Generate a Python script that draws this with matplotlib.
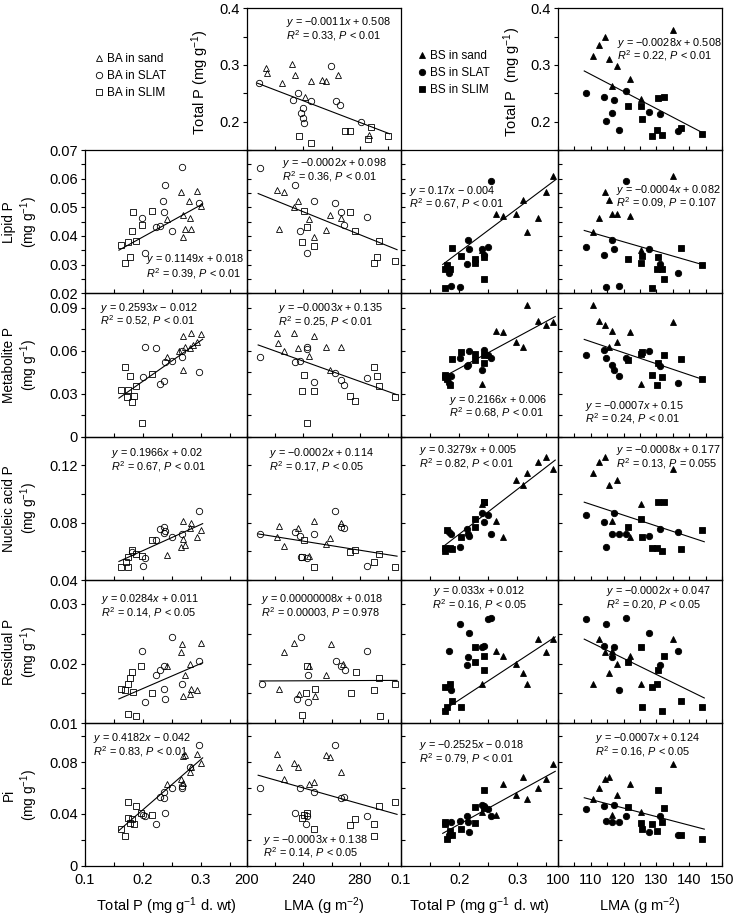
import numpy as np
import matplotlib
matplotlib.use("Agg")
import matplotlib.pyplot as plt
from matplotlib.lines import Line2D
from matplotlib.ticker import FixedLocator, MultipleLocator, FuncFormatter

plt.rcParams['font.family'] = ['Liberation Sans', 'DejaVu Sans']
plt.rcParams['mathtext.fontset'] = 'custom'
plt.rcParams['mathtext.rm'] = 'Liberation Sans'
plt.rcParams['mathtext.it'] = 'Liberation Sans:italic'
plt.rcParams['mathtext.bf'] = 'Liberation Sans:bold'

# ---------------------------------------------------------------- data
# BA (open symbols) -- each list holds (x, y) pairs
BA_TOP_SAND = [(213.6,0.295),(214.1,0.286),(225.1,0.268),(231.9,0.301),(234.3,0.282),(241.5,0.243),(245.1,0.272),(253.0,0.274),(256.3,0.271),(264.3,0.282),(286.3,0.177)]
BA_TOP_SLAT = [(208.9,0.269),(232.8,0.239),(235.9,0.250),(238.7,0.215),(239.9,0.224),(239.9,0.206),(240.4,0.198),(245.1,0.237),(259.6,0.299),(263.4,0.236),(265.7,0.229),(281.0,0.200)]
BA_TOP_SLIM = [(236.8,0.175),(245.5,0.163),(269.7,0.184),(272.7,0.183),(285.6,0.169),(288.0,0.190),(299.7,0.175)]

BA_LIPID_TP_SAND = [(0.242,0.0459),(0.266,0.0552),(0.269,0.0472),(0.269,0.0395),(0.273,0.0423),(0.284,0.0423),(0.281,0.0464),(0.280,0.0522),(0.293,0.0558),(0.300,0.0506)]
BA_LIPID_TP_SLAT = [(0.199,0.0464),(0.204,0.0340),(0.223,0.0430),(0.229,0.0436),(0.235,0.0522),(0.236,0.0485),(0.238,0.0578),(0.250,0.0417),(0.267,0.0640),(0.297,0.0514)]
BA_LIPID_TP_SLIM = [(0.162,0.0367),(0.169,0.0305),(0.177,0.0326),(0.174,0.0378),(0.182,0.0417),(0.183,0.0485),(0.189,0.0384),(0.199,0.0438),(0.215,0.0488)]
BA_LIPID_LMA_SAND = [(221.1,0.0560),(226.1,0.0552),(222.5,0.0423),(235.9,0.0522),(233.3,0.0502),(243.9,0.0458),(247.4,0.0395),(255.8,0.0421),(258.7,0.0473),(266.9,0.0464)]
BA_LIPID_LMA_SLAT = [(209.4,0.0638),(234.2,0.0578),(247.6,0.0522),(237.5,0.0418),(242.3,0.0340),(262.7,0.0514),(266.4,0.0485),(268.7,0.0438),(285.2,0.0465)]
BA_LIPID_LMA_SLIM = [(240.6,0.0488),(242.3,0.0430),(238.9,0.0380),(247.6,0.0366),(273.2,0.0485),(276.8,0.0418),(293.2,0.0384),(289.9,0.0307),(292.0,0.0325),(304.9,0.0314)]

BA_METAB_TP_SAND = [(0.242,0.0558),(0.262,0.0600),(0.269,0.0703),(0.269,0.0465),(0.273,0.0627),(0.281,0.0620),(0.284,0.0724),(0.286,0.0640),(0.293,0.0658),(0.300,0.0715)]
BA_METAB_TP_SLAT = [(0.200,0.0415),(0.204,0.0627),(0.223,0.0620),(0.229,0.0368),(0.236,0.0391),(0.238,0.0523),(0.250,0.0528),(0.267,0.0556),(0.267,0.0597),(0.297,0.0449)]
BA_METAB_TP_SLIM = [(0.162,0.0326),(0.169,0.0488),(0.174,0.0326),(0.173,0.0280),(0.177,0.0424),(0.182,0.0245),(0.184,0.0287),(0.189,0.0356),(0.198,0.0095),(0.215,0.0435)]
BA_METAB_LMA_SAND = [(221.1,0.0722),(221.8,0.0656),(226.1,0.0595),(233.3,0.0722),(235.9,0.0618),(243.9,0.0560),(247.4,0.0701),(255.8,0.0625),(258.7,0.0463),(266.9,0.0625)]
BA_METAB_LMA_SLAT = [(209.4,0.0556),(234.2,0.0521),(237.5,0.0526),(242.3,0.0625),(242.3,0.0610),(247.6,0.0382),(262.7,0.0447),(266.4,0.0394),(268.7,0.0364),(285.2,0.0410)]
BA_METAB_LMA_SLIM = [(240.6,0.0433),(238.9,0.0319),(247.6,0.0319),(242.3,0.0093),(273.2,0.0285),(276.8,0.0248),(289.9,0.0486),(292.0,0.0421),(293.2,0.0354),(304.9,0.0278)]

BA_NUCL_TP_SAND = [(0.242,0.0577),(0.266,0.0630),(0.269,0.0814),(0.269,0.0683),(0.273,0.0647),(0.281,0.0760),(0.284,0.0800),(0.293,0.0697),(0.300,0.0748)]
BA_NUCL_TP_SLAT = [(0.182,0.0595),(0.200,0.0501),(0.204,0.0556),(0.223,0.0678),(0.229,0.0755),(0.236,0.0767),(0.236,0.0725),(0.238,0.0741),(0.250,0.0701),(0.267,0.0718),(0.297,0.0882)]
BA_NUCL_TP_SLIM = [(0.162,0.0494),(0.170,0.0525),(0.174,0.0494),(0.175,0.0560),(0.182,0.0612),(0.189,0.0584),(0.199,0.0565),(0.215,0.0678)]
BA_NUCL_LMA_SAND = [(221.1,0.0697),(222.5,0.0777),(226.1,0.0635),(235.9,0.0765),(243.9,0.0565),(247.4,0.0814),(255.8,0.0650),(258.7,0.0690),(266.9,0.0800)]
BA_NUCL_LMA_SLAT = [(209.4,0.0720),(234.2,0.0736),(237.5,0.0706),(238.7,0.0560),(242.3,0.0556),(247.6,0.0720),(262.7,0.0882),(266.4,0.0772),(268.7,0.0760),(285.2,0.0501)]
BA_NUCL_LMA_SLIM = [(240.6,0.0678),(238.9,0.0560),(247.6,0.0494),(273.2,0.0595),(276.8,0.0607),(289.9,0.0525),(293.2,0.0584),(304.9,0.0494)]

BA_RESID_TP_SAND = [(0.242,0.0196),(0.266,0.0220),(0.267,0.0232),(0.269,0.0145),(0.273,0.0181),(0.281,0.0200),(0.281,0.0149),(0.284,0.0157),(0.293,0.0155),(0.300,0.0234)]
BA_RESID_TP_SLAT = [(0.199,0.0221),(0.204,0.0135),(0.223,0.0181),(0.229,0.0189),(0.236,0.0196),(0.236,0.0157),(0.238,0.0140),(0.250,0.0245),(0.267,0.0166),(0.297,0.0204)]
BA_RESID_TP_SLIM = [(0.162,0.0157),(0.169,0.0155),(0.174,0.0166),(0.177,0.0176),(0.182,0.0186),(0.183,0.0153),(0.197,0.0196),(0.215,0.0151),(0.174,0.0116),(0.189,0.0112)]
BA_RESID_LMA_SAND = [(222.5,0.0157),(226.5,0.0220),(233.5,0.0234),(236.8,0.0149),(243.9,0.0196),(248.1,0.0145),(256.3,0.0181),(259.4,0.0232),(268.0,0.0200)]
BA_RESID_LMA_SLAT = [(210.6,0.0166),(235.2,0.0140),(238.2,0.0245),(243.0,0.0135),(243.0,0.0181),(263.4,0.0204),(266.4,0.0196),(269.7,0.0189),(285.2,0.0221)]
BA_RESID_LMA_SLIM = [(242.3,0.0196),(248.1,0.0157),(241.8,0.0151),(239.4,0.0114),(277.0,0.0186),(273.5,0.0151),(293.2,0.0176),(289.9,0.0155),(304.9,0.0166),(293.9,0.0112)]

BA_PI_TP_SAND = [(0.242,0.0634),(0.266,0.0668),(0.269,0.0642),(0.269,0.0846),(0.273,0.0853),(0.281,0.0723),(0.284,0.0765),(0.293,0.0866),(0.300,0.0795)]
BA_PI_TP_SLAT = [(0.200,0.0393),(0.204,0.0382),(0.223,0.0324),(0.229,0.0532),(0.236,0.0520),(0.236,0.0571),(0.238,0.0408),(0.250,0.0604),(0.267,0.0617),(0.267,0.0597),(0.281,0.0762),(0.297,0.0930)]
BA_PI_TP_SLIM = [(0.162,0.0286),(0.169,0.0227),(0.174,0.0489),(0.174,0.0367),(0.177,0.0331),(0.182,0.0357),(0.184,0.0319),(0.189,0.0458),(0.197,0.0408),(0.215,0.0395)]
BA_PI_LMA_SAND = [(221.1,0.0866),(222.5,0.0762),(226.1,0.0668),(233.3,0.0795),(235.9,0.0762),(243.9,0.0634),(247.4,0.0645),(255.8,0.0853),(258.7,0.0840),(266.9,0.0723)]
BA_PI_LMA_SLAT = [(209.4,0.0604),(234.2,0.0408),(237.5,0.0604),(241.8,0.0324),(242.3,0.0387),(247.6,0.0571),(262.7,0.0930),(266.4,0.0520),(268.7,0.0532),(285.2,0.0387)]
BA_PI_LMA_SLIM = [(238.9,0.0367),(240.6,0.0395),(242.3,0.0408),(247.6,0.0286),(273.2,0.0316),(276.8,0.0362),(289.9,0.0324),(289.9,0.0227),(293.2,0.0458),(304.9,0.0489)]

# BS (filled symbols) -- one value per plant
BS_SAND_LMA   = [110.6, 112.6, 114.2, 115.4, 116.5, 118.0, 121.8, 125.3, 135.0]
BS_SAND_TP    = [0.316, 0.335, 0.349, 0.310, 0.263, 0.298, 0.276, 0.240, 0.362]
BS_SAND_LIPID = [0.0413, 0.0464, 0.0555, 0.0525, 0.0477, 0.0477, 0.0470, 0.0351, 0.0609]
BS_SAND_METAB = [0.0921, 0.0806, 0.0778, 0.0623, 0.0736, 0.0657, 0.0731, 0.0366, 0.0801]
BS_SAND_NUCL  = [0.1148, 0.1223, 0.1259, 0.1066, 0.0814, 0.1101, 0.0701, 0.0932, 0.1177]
BS_SAND_RESID = [0.0165, 0.0241, 0.0219, 0.0184, 0.0221, 0.0200, 0.0213, 0.0166, 0.0241]
BS_SAND_PI    = [0.0515, 0.0604, 0.0672, 0.0685, 0.0393, 0.0545, 0.0634, 0.0418, 0.0782]

BS_SLAT_LMA   = [108.6, 113.9, 117.0, 116.6, 114.6, 120.8, 118.7, 127.7, 131.0, 136.6]
BS_SLAT_TP    = [0.250, 0.243, 0.239, 0.216, 0.202, 0.254, 0.186, 0.217, 0.213, 0.183]
BS_SLAT_LIPID = [0.0363, 0.0334, 0.0355, 0.0386, 0.0221, 0.0592, 0.0226, 0.0355, 0.0301, 0.0270]
BS_SLAT_METAB = [0.0567, 0.0602, 0.0463, 0.0498, 0.0549, 0.0549, 0.0424, 0.0595, 0.0491, 0.0371]
BS_SLAT_NUCL  = [0.0854, 0.0807, 0.0870, 0.0720, 0.0630, 0.0720, 0.0720, 0.0706, 0.0753, 0.0736]
BS_SLAT_RESID = [0.0275, 0.0229, 0.0228, 0.0211, 0.0266, 0.0276, 0.0155, 0.0252, 0.0198, 0.0221]
BS_SLAT_PI    = [0.0438, 0.0458, 0.0469, 0.0336, 0.0349, 0.0387, 0.0336, 0.0260, 0.0387, 0.0240]

BS_SLIM_LMA   = [121.3, 125.3, 125.7, 130.4, 132.2, 128.7, 130.1, 131.8, 137.6, 144.0]
BS_SLIM_TP    = [0.228, 0.228, 0.204, 0.242, 0.243, 0.175, 0.185, 0.176, 0.188, 0.179]
BS_SLIM_LIPID = [0.0319, 0.0307, 0.0330, 0.0328, 0.0249, 0.0220, 0.0285, 0.0285, 0.0357, 0.0299]
BS_SLIM_METAB = [0.0533, 0.0579, 0.0590, 0.0517, 0.0572, 0.0428, 0.0364, 0.0417, 0.0544, 0.0401]
BS_SLIM_NUCL  = [0.0772, 0.0824, 0.0701, 0.0947, 0.0947, 0.0623, 0.0623, 0.0602, 0.0619, 0.0748]
BS_SLIM_RESID = [0.0202, 0.0227, 0.0127, 0.0189, 0.0213, 0.0160, 0.0165, 0.0120, 0.0138, 0.0127]
BS_SLIM_PI    = [0.0456, 0.0331, 0.0280, 0.0586, 0.0446, 0.0324, 0.0265, 0.0336, 0.0235, 0.0209]

# regression lines as drawn in the figure: (slope, intercept)
FIT_TOP = [(-0.000956, 0.4663), (-0.00302, 0.6156)]
FIT_ROWS = [
    [(0.1114, 0.01738), (-0.0001996, 0.09634), (0.1523, 0.00391), (-0.0003305, 0.07762)],
    [(0.2836, -0.01808), (-0.0003538, 0.1376), (0.2189, 0.00384), (-0.0007718, 0.1512)],
    [(0.1823, 0.02403), (-0.0001583, 0.1051), (0.3132, 0.00929), (-0.0007546, 0.1758)],
    [(0.04184, 0.00745), (0.000001, 0.01688), (0.06387, 0.00114), (-0.0002692, 0.05317)],
    [(0.3879, -0.03438), (-0.0003081, 0.1340), (0.2476, -0.01754), (-0.0006622, 0.1240)],
]

ROW_LABELS = ["Lipid P\n(mg g$^{-1}$)", "Metabolite P\n(mg g$^{-1}$)", "Nucleic acid P\n(mg g$^{-1}$)",
              "Residual P\n(mg g$^{-1}$)", "Pi\n(mg g$^{-1}$)"]
TOP_YLABELS = ["Total P (mg g$^{-1}$)", "Total P  (mg g$^{-1}$)"]
X_LABELS = ["Total P (mg g$^{-1}$ d. wt)", "LMA (g m$^{-2}$)", "Total P (mg g$^{-1}$ d. wt)", "LMA (g m$^{-2}$)"]
BA_LEGEND = ["BA in sand", "BA in SLAT", "BA in SLIM"]
BS_LEGEND = ["BS in sand", "BS in SLAT", "BS in SLIM"]

EQ_TOP = [("$y$ = \u22120.0011$x$ + 0.508", "$R^2$ = 0.33, $P$ < 0.01"),
          ("$y$ = \u22120.0028$x$ + 0.508", "$R^2$ = 0.22, $P$ < 0.01")]
EQ_ROWS = [
    [("$y$ = 0.1149$x$ + 0.018", "$R^2$ = 0.39, $P$ < 0.01"),
     ("$y$ = \u22120.0002$x$ + 0.098", "$R^2$ = 0.36, $P$ < 0.01"),
     ("$y$ = 0.17$x$ \u2212 0.004", "$R^2$ = 0.67, $P$ < 0.01"),
     ("$y$ = \u22120.0004$x$ + 0.082", "$R^2$ = 0.09, $P$ = 0.107")],
    [("$y$ = 0.2593$x$ \u2212 0.012", "$R^2$ = 0.52, $P$ < 0.01"),
     ("$y$ = \u22120.0003$x$ + 0.135", "$R^2$ = 0.25, $P$ < 0.01"),
     ("$y$ = 0.2166$x$ + 0.006", "$R^2$ = 0.68, $P$ < 0.01"),
     ("$y$ = \u22120.0007$x$ + 0.15", "$R^2$ = 0.24, $P$ < 0.01")],
    [("$y$ = 0.1966$x$ + 0.02", "$R^2$ = 0.67, $P$ < 0.01"),
     ("$y$ = \u22120.0002$x$ + 0.114", "$R^2$ = 0.17, $P$ < 0.05"),
     ("$y$ = 0.3279$x$ + 0.005", "$R^2$ = 0.82, $P$ < 0.01"),
     ("$y$ = \u22120.0008$x$ + 0.177", "$R^2$ = 0.13, $P$ = 0.055")],
    [("$y$ = 0.0284$x$ + 0.011", "$R^2$ = 0.14, $P$ < 0.05"),
     ("$y$ = 0.00000008$x$ + 0.018", "$R^2$ = 0.00003, $P$ = 0.978"),
     ("$y$ = 0.033$x$ + 0.012", "$R^2$ = 0.16, $P$ < 0.05"),
     ("$y$ = \u22120.0002$x$ + 0.047", "$R^2$ = 0.20, $P$ < 0.05")],
    [("$y$ = 0.4182$x$ \u2212 0.042", "$R^2$ = 0.83, $P$ < 0.01"),
     ("$y$ = \u22120.0003$x$ + 0.138", "$R^2$ = 0.14, $P$ < 0.05"),
     ("$y$ = \u22120.2525$x$ \u2212 0.018", "$R^2$ = 0.79, $P$ < 0.01"),
     ("$y$ = \u22120.0007$x$ + 0.124", "$R^2$ = 0.16, $P$ < 0.05")],
]

# ---------------------------------------------------------------- layout
W, H = 734, 915
fig = plt.figure(figsize=(W / 100, H / 100), dpi=100)
COLX = [(85, 247), (246.7, 401), (401, 558), (558, 722)]
ROWY = [(8.3, 150), (150, 293.3), (293.3, 436.7), (436.7, 580), (580, 723.3), (723.3, 865.7)]
XLIMS = [(0.1, 0.38), (200, 309), (0.1, 0.37), (100, 150)]
XMAJ = [[0.1, 0.2, 0.3], [200, 240, 280], [0.1, 0.2, 0.3], [100, 110, 120, 130, 140, 150]]
XMIN = [0.05, 20, 0.05, 5]
YLIMS = [(0.15, 0.4), (0.02, 0.07), (0, 0.1), (0.04, 0.14), (0.01, 0.034), (0, 0.11)]
YMAJ = [[0.2, 0.3, 0.4], [0.02, 0.03, 0.04, 0.05, 0.06, 0.07], [0, 0.03, 0.06, 0.09],
        [0.04, 0.08, 0.12], [0.01, 0.02, 0.03], [0, 0.04, 0.08]]
YMIN = [0.05, 0.005, 0.015, 0.02, 0.005, 0.02]
FS_TICK = 10.5
FS_LAB = 9.8
FS_EQ = 7.8

MARKERS = ['^', 'o', 's']
MSIZE = [5.0, 4.6, 4.0]


def fmt(v, pos):
    return ('%.3f' % v).rstrip('0').rstrip('.') if v != 0 else '0'


def make_ax(r, c):
    x0, x1 = COLX[c]
    y0, y1 = ROWY[r]
    ax = fig.add_axes([x0 / W, 1 - y1 / H, (x1 - x0) / W, (y1 - y0) / H])
    ax.set_xlim(*XLIMS[c])
    ax.set_ylim(*YLIMS[r])
    ax.xaxis.set_major_locator(FixedLocator(XMAJ[c]))
    ax.xaxis.set_minor_locator(MultipleLocator(XMIN[c]))
    ax.yaxis.set_major_locator(FixedLocator(YMAJ[r]))
    ax.yaxis.set_minor_locator(MultipleLocator(YMIN[r]))
    ax.xaxis.set_major_formatter(FuncFormatter(fmt))
    ax.yaxis.set_major_formatter(FuncFormatter(fmt))
    ax.tick_params(axis='x', which='both', direction='in', length=3, width=0.8,
                   labelsize=FS_TICK, pad=5, labelbottom=(r == 5))
    ydir = 'out' if (c == 0 or r == 0) else 'in'
    ax.tick_params(axis='y', which='both', direction=ydir, length=3, width=0.8,
                   labelsize=FS_TICK, pad=2, labelleft=(c == 0 or r == 0))
    for s in ax.spines.values():
        s.set_linewidth(0.9)
    ax.patch.set_alpha(0)
    return ax


def panel(ax, groups, filled, c, fit):
    allx = []
    for pts, m, ms in zip(groups, MARKERS, MSIZE):
        x = np.array([p[0] for p in pts], float)
        y = np.array([p[1] for p in pts], float)
        ax.plot(x, y, ls='none', marker=m, ms=ms, mfc='k' if filled else 'none',
                mec='k', mew=0.6, zorder=3, clip_on=False)
        allx.append(x)
    allx = np.concatenate(allx)
    k, b = fit
    pad = 0.012 * (XLIMS[c][1] - XLIMS[c][0])
    xr = np.array([allx.min() - pad, allx.max() + pad])
    ax.plot(xr, k * xr + b, color='k', lw=0.8, zorder=2)


def eq(lines, x, y1, y2, ha='left'):
    if y2 - y1 < 13:
        mid = (y1 + y2) / 2
        y1, y2 = mid - 6.5, mid + 6.5
    fig.text(x / W, 1 - y1 / H, lines[0], ha=ha, va='center', fontsize=FS_EQ)
    fig.text(x / W, 1 - y2 / H, lines[1], ha=ha, va='center', fontsize=FS_EQ)


def bs(xs, ys):
    return list(zip(xs, ys))


# top row
ax = make_ax(0, 1)
panel(ax, [BA_TOP_SAND, BA_TOP_SLAT, BA_TOP_SLIM], False, 1, FIT_TOP[0])
ax = make_ax(0, 3)
panel(ax, [bs(BS_SAND_LMA, BS_SAND_TP), bs(BS_SLAT_LMA, BS_SLAT_TP), bs(BS_SLIM_LMA, BS_SLIM_TP)],
      True, 3, FIT_TOP[1])

BA_ROWS = [
    ([BA_LIPID_TP_SAND, BA_LIPID_TP_SLAT, BA_LIPID_TP_SLIM], [BA_LIPID_LMA_SAND, BA_LIPID_LMA_SLAT, BA_LIPID_LMA_SLIM]),
    ([BA_METAB_TP_SAND, BA_METAB_TP_SLAT, BA_METAB_TP_SLIM], [BA_METAB_LMA_SAND, BA_METAB_LMA_SLAT, BA_METAB_LMA_SLIM]),
    ([BA_NUCL_TP_SAND, BA_NUCL_TP_SLAT, BA_NUCL_TP_SLIM], [BA_NUCL_LMA_SAND, BA_NUCL_LMA_SLAT, BA_NUCL_LMA_SLIM]),
    ([BA_RESID_TP_SAND, BA_RESID_TP_SLAT, BA_RESID_TP_SLIM], [BA_RESID_LMA_SAND, BA_RESID_LMA_SLAT, BA_RESID_LMA_SLIM]),
    ([BA_PI_TP_SAND, BA_PI_TP_SLAT, BA_PI_TP_SLIM], [BA_PI_LMA_SAND, BA_PI_LMA_SLAT, BA_PI_LMA_SLIM]),
]
BS_Y = [
    (BS_SAND_LIPID, BS_SLAT_LIPID, BS_SLIM_LIPID),
    (BS_SAND_METAB, BS_SLAT_METAB, BS_SLIM_METAB),
    (BS_SAND_NUCL, BS_SLAT_NUCL, BS_SLIM_NUCL),
    (BS_SAND_RESID, BS_SLAT_RESID, BS_SLIM_RESID),
    (BS_SAND_PI, BS_SLAT_PI, BS_SLIM_PI),
]
BS_TP = (BS_SAND_TP, BS_SLAT_TP, BS_SLIM_TP)
BS_LMA = (BS_SAND_LMA, BS_SLAT_LMA, BS_SLIM_LMA)

for i in range(5):
    r = i + 1
    a1 = make_ax(r, 0)
    panel(a1, BA_ROWS[i][0], False, 0, FIT_ROWS[i][0])
    a2 = make_ax(r, 1)
    panel(a2, BA_ROWS[i][1], False, 1, FIT_ROWS[i][1])
    a3 = make_ax(r, 2)
    panel(a3, [bs(BS_TP[g], BS_Y[i][g]) for g in range(3)], True, 2, FIT_ROWS[i][2])
    a4 = make_ax(r, 3)
    panel(a4, [bs(BS_LMA[g], BS_Y[i][g]) for g in range(3)], True, 3, FIT_ROWS[i][3])
    if r == 5:
        for a, c in zip((a1, a2, a3, a4), range(4)):
            a.set_xlabel(X_LABELS[c], fontsize=FS_TICK, labelpad=6)
    mid = (ROWY[r][0] + ROWY[r][1]) / 2
    fig.text(21 / W, 1 - mid / H, ROW_LABELS[i], rotation=90, ha='center', va='center',
             fontsize=FS_LAB, linespacing=1.2, multialignment='center')

# y labels of the top panels
fig.text(200 / W, 1 - 82 / H, TOP_YLABELS[0], rotation=90, ha='center', va='center', fontsize=FS_TICK)
fig.text(512 / W, 1 - 82 / H, TOP_YLABELS[1], rotation=90, ha='center', va='center', fontsize=FS_TICK)

# equations (x_left_px, y_line1_px, y_line2_px)
eq(EQ_TOP[0], 286, 23.3, 34.5)
eq(EQ_TOP[1], 617, 43.3, 55)
EQ_POS = [
    [(146, 259.3, 273.3), (281.7, 164, 175.5), (409.3, 191.7, 203.3), (616, 190, 202.7)],
    [(100, 308.3, 320), (278.3, 308.3, 321), (449.3, 400, 412.7), (585, 405.7, 419)],
    [(111, 453.3, 466), (269.3, 453.3, 466), (419.3, 450, 463.3), (616, 450, 463.3)],
    [(100.7, 600, 611.7), (261, 600, 611.7), (479.5, 590.7, 605), (606, 590.7, 604.7)],
    [(92.7, 738.3, 751.7), (263.3, 840, 852.3), (419.3, 745.7, 758.3), (595, 738.3, 751)],
]
for i in range(5):
    for c in range(4):
        x, y1, y2 = EQ_POS[i][c]
        eq(EQ_ROWS[i][c], x, y1, y2, ha='center' if (i == 3 and c == 2) else 'left')


# legends
def legend(labels, filled, x, y):
    hs = [Line2D([], [], ls='none', marker=m, ms=ms, mfc='k' if filled else 'none', mec='k', mew=0.6)
          for m, ms in zip(MARKERS, MSIZE)]
    fig.legend(hs, labels, loc='upper left', bbox_to_anchor=(x / W, 1 - y / H), frameon=False,
               fontsize=8.5, handlelength=0.7, handletextpad=0.35, labelspacing=0.42, borderpad=0,
               borderaxespad=0)


legend(BA_LEGEND, False, 95, 53)
legend(BS_LEGEND, True, 418, 50)

fig.savefig("out.png", dpi=100)
